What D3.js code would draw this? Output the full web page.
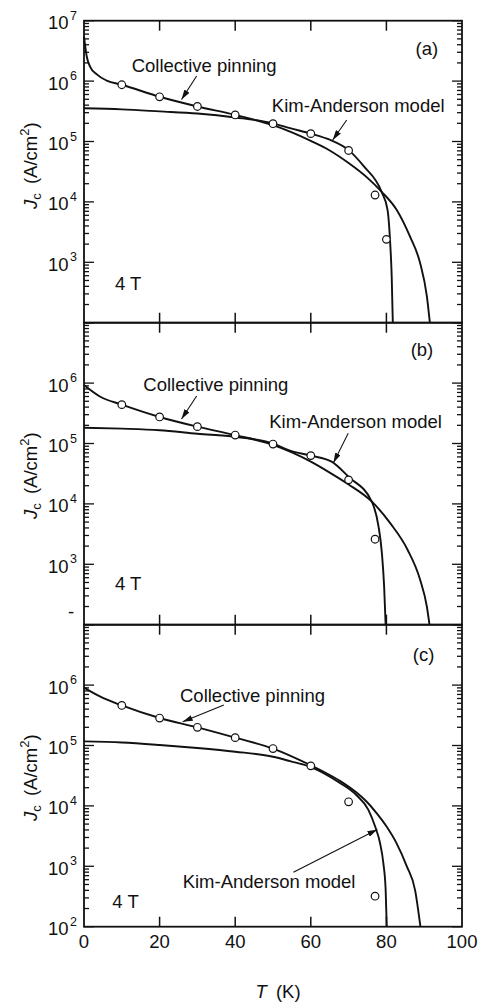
<!DOCTYPE html>
<html>
<head>
<meta charset="utf-8">
<script src="https://cdn.jsdelivr.net/npm/d3@7"></script>
<style>
  html, body { margin: 0; padding: 0; background: #fff; }
  svg { display: block; }
  text { font-family: "Liberation Sans", Arial, Helvetica, sans-serif; fill: #111; }
</style>
</head>
<body>
<svg id="chart" width="479" height="1006"></svg>
<script>
// ---- data: critical current density J_c (A/cm^2) vs temperature T (K) at 4 T ----

// panel (a)
const aCollT = [0, 0.7, 1.6, 3.4, 6, 10, 20, 30, 40, 50, 55, 60, 65, 70, 75, 78.7, 82.7, 86.2, 88.9, 90.7, 91.5];
const aCollJ = [5.5e6, 2.6e6, 1.74e6, 1.29e6, 1.02e6, 8.7e5, 5.5e5, 3.8e5, 2.75e5, 1.86e5, 1.41e5, 1.02e5, 7.1e4, 4.4e4, 2.5e4, 1.48e4, 7.4e3, 2.7e3, 980, 275, 100];
const aKimT  = [0, 10, 20, 30, 40, 50, 54.5, 60, 65, 70, 74, 78.7, 80.3, 81.0, 81.4, 81.7];
const aKimJ  = [3.55e5, 3.4e5, 3.15e5, 2.9e5, 2.5e5, 2.0e5, 1.66e5, 1.35e5, 1.07e5, 7.2e4, 3.9e4, 1.48e4, 7.4e3, 2.1e3, 590, 100];
const aPtsT  = [10, 20, 30, 40, 50, 60, 70, 77, 80];
const aPtsJ  = [8.7e5, 5.5e5, 3.8e5, 2.75e5, 1.97e5, 1.35e5, 7.1e4, 1.3e4, 2.4e3];

// panel (b)
const bCollT = [0, 4.2, 10, 20, 30, 40, 50, 55, 60, 65, 70, 76.1, 81, 85.6, 88.9, 90.7, 91.4];
const bCollJ = [9.3e5, 6.0e5, 4.4e5, 2.75e5, 1.9e5, 1.38e5, 9.5e4, 7.1e4, 5.0e4, 3.3e4, 2.1e4, 1.1e4, 4.8e3, 1.74e3, 560, 200, 100];
const bKimT  = [0, 10, 20, 30, 40, 50, 54.5, 60, 65.5, 70, 76.1, 77.9, 78.8, 79.4, 79.8];
const bKimJ  = [1.82e5, 1.76e5, 1.66e5, 1.45e5, 1.29e5, 1.0e5, 7.6e4, 6.3e4, 5.0e4, 2.8e4, 1.1e4, 4.3e3, 1.55e3, 430, 100];
const bPtsT  = [10, 20, 30, 40, 50, 60, 70, 77];
const bPtsJ  = [4.4e5, 2.75e5, 1.9e5, 1.38e5, 9.8e4, 6.3e4, 2.5e4, 2.6e3];

// panel (c)
const cCollT = [0, 4.2, 10, 20, 30, 40, 50, 60, 63.3, 67.7, 72.1, 74.8, 77.4, 80, 82.7, 85.4, 87.6, 89.0];
const cCollJ = [9.1e5, 6.5e5, 4.6e5, 2.85e5, 2.0e5, 1.35e5, 8.9e4, 4.7e4, 3.7e4, 2.6e4, 1.66e4, 1.17e4, 7.6e3, 4.6e3, 2.4e3, 1.0e3, 400, 100];
const cKimT  = [0, 10, 20, 30, 40, 50, 54.5, 60, 67.7, 72.1, 75.2, 77, 78.3, 79.2, 79.8, 80.1];
const cKimJ  = [1.17e5, 1.12e5, 1.02e5, 9.1e4, 7.9e4, 6.5e4, 5.5e4, 4.4e4, 2.4e4, 1.5e4, 8.7e3, 4.6e3, 2.45e3, 1.12e3, 410, 100];
const cPtsT  = [10, 20, 30, 40, 50, 60, 70, 77];
const cPtsJ  = [4.6e5, 2.85e5, 2.0e5, 1.35e5, 8.9e4, 4.6e4, 1.17e4, 320];

// axis ticks and labels
const tempTicks   = [0, 20, 40, 60, 80, 100];
const innerTTicks = [20, 40, 60, 80];
const jDomain     = [1e2, 1e7];
const panelTags   = ["(a)", "(b)", "(c)"];
const fieldLabel  = "4 T";
const collLabel   = "Collective pinning";
const kimLabel    = "Kim-Anderson model";
const decadeLabelsByPanel = [[3, 4, 5, 6, 7], [3, 4, 5, 6], [2, 3, 4, 5, 6]];

// ---- layout ----
const L = e => Math.pow(10, e);
const plotLeft = 84, plotRight = 462;
const panelTop0 = 20.7, panelH = 302;
const FONT = 18.5, SUP = 12.5;

// annotation placement in data coordinates (T, J)
const annotations = [
  { tag: [93.7, L(6.432)], field: [8.2, L(2.541)],
    coll: { text: [12.6, L(6.156)], from: [29.8, L(6.084)], to: [25.8, L(5.695)] },
    kim:  { text: [49.7, L(5.493)], from: [69.5, L(5.356)], to: [65.8, L(5.025)] },
    titleShift: -6 },
  { tag: [92.4, L(6.449)], field: [8.2, L(2.575)],
    coll: { text: [15.7, L(5.874)], from: [29.8, L(5.786)], to: [25.8, L(5.405)] },
    kim:  { text: [49.0, L(5.252)], from: [69.9, L(5.169)], to: [66.0, L(4.682)] },
    titleShift: 2 },
  { tag: [92.7, L(6.404)], field: [7.5, L(2.305)],
    coll: { text: [25.4, L(5.725)], from: [37.0, L(5.67)], to: [26.1, L(5.394)] },
    kim:  { text: [26.1, L(2.636)], from: [55.4, L(2.90)], to: [77.6, L(3.61)] },
    titleShift: 2 }
];

const panels = [
  { coll: [aCollT, aCollJ], kim: [aKimT, aKimJ], pts: [aPtsT, aPtsJ] },
  { coll: [bCollT, bCollJ], kim: [bKimT, bKimJ], pts: [bPtsT, bPtsJ] },
  { coll: [cCollT, cCollJ], kim: [cKimT, cKimJ], pts: [cPtsT, cPtsJ] }
];

const svg = d3.select("#chart");
const ink = "#111";

const defs = svg.append("defs");
defs.append("marker")
  .attr("id", "arrowhead")
  .attr("viewBox", "0 0 10 6")
  .attr("refX", 10).attr("refY", 3)
  .attr("markerWidth", 10).attr("markerHeight", 6)
  .attr("markerUnits", "userSpaceOnUse")
  .attr("orient", "auto")
  .append("path").attr("d", "M0,0L10,3L0,6Z").attr("fill", ink);

const x = d3.scaleLinear().domain([0, 100]).range([plotLeft, plotRight]);

panels.forEach((p, i) => {
  const top = panelTop0 + i * panelH;
  const bottom = top + panelH;
  const y = d3.scaleLog().domain(jDomain).range([bottom, top]);
  const g = svg.append("g");
  const ann = annotations[i];

  // y ticks (decades and minor) on both sides, pointing inward
  const yTicks = [];
  for (let d = 2; d <= 6; d++) for (let m = 1; m <= 9; m++) yTicks.push({ v: m * L(d), major: m === 1 });
  yTicks.push({ v: 1e7, major: true });
  g.selectAll(null).data(yTicks).join("line")
    .attr("x1", plotLeft).attr("x2", d => plotLeft + (d.major ? 10 : 5))
    .attr("y1", d => y(d.v)).attr("y2", d => y(d.v))
    .attr("stroke", ink).attr("stroke-width", 1.3);
  g.selectAll(null).data(yTicks).join("line")
    .attr("x1", plotRight).attr("x2", d => plotRight - (d.major ? 10 : 5))
    .attr("y1", d => y(d.v)).attr("y2", d => y(d.v))
    .attr("stroke", ink).attr("stroke-width", 1.3);

  // temperature ticks on top and bottom edges
  g.selectAll(null).data(innerTTicks).join("line")
    .attr("x1", d => x(d)).attr("x2", d => x(d))
    .attr("y1", bottom).attr("y2", bottom - 10)
    .attr("stroke", ink).attr("stroke-width", 1.5);
  g.selectAll(null).data(innerTTicks).join("line")
    .attr("x1", d => x(d)).attr("x2", d => x(d))
    .attr("y1", top).attr("y2", top + 10)
    .attr("stroke", ink).attr("stroke-width", 1.5);

  // frame
  g.append("rect")
    .attr("x", plotLeft).attr("y", top)
    .attr("width", plotRight - plotLeft).attr("height", panelH)
    .attr("fill", "none").attr("stroke", ink).attr("stroke-width", 1.8);

  // decade labels
  const lbl = g.selectAll(null).data(decadeLabelsByPanel[i]).join("text")
    .attr("x", 77).attr("y", d => y(L(d)) + 8.5)
    .attr("text-anchor", "end").attr("font-size", FONT);
  lbl.append("tspan").text("10");
  lbl.append("tspan").attr("font-size", SUP).attr("dx", 1.5).attr("dy", -9.5).text(d => d);

  if (i === 1) {
    g.append("text").attr("x", 71).attr("y", y(L(2.205)) + 5.5)
      .attr("text-anchor", "middle").attr("font-size", FONT).text("-");
  }

  // model curves
  const line = d3.line()
    .x(d => x(d[0])).y(d => y(d[1]))
    .curve(d3.curveMonotoneX);
  [p.coll, p.kim].forEach(s => {
    g.append("path")
      .attr("d", line(d3.zip(s[0], s[1])))
      .attr("fill", "none").attr("stroke", ink)
      .attr("stroke-width", 1.9).attr("stroke-linejoin", "round");
  });

  // measured points
  g.selectAll(null).data(d3.zip(p.pts[0], p.pts[1])).join("circle")
    .attr("cx", d => x(d[0])).attr("cy", d => y(d[1])).attr("r", 3.8)
    .attr("fill", "#fff").attr("stroke", ink).attr("stroke-width", 1.2);

  // labels and arrows
  const addArrow = a => g.append("line")
    .attr("x1", x(a.from[0])).attr("y1", y(a.from[1]))
    .attr("x2", x(a.to[0])).attr("y2", y(a.to[1]))
    .attr("stroke", ink).attr("stroke-width", 1.1)
    .attr("marker-end", "url(#arrowhead)");
  addArrow(ann.coll);
  addArrow(ann.kim);
  g.append("text").attr("x", x(ann.coll.text[0])).attr("y", y(ann.coll.text[1]))
    .attr("font-size", FONT).text(collLabel);
  g.append("text").attr("x", x(ann.kim.text[0])).attr("y", y(ann.kim.text[1]))
    .attr("font-size", FONT).text(kimLabel);
  g.append("text").attr("x", x(ann.tag[0])).attr("y", y(ann.tag[1]))
    .attr("text-anchor", "end").attr("font-size", FONT).text(panelTags[i]);
  g.append("text").attr("x", x(ann.field[0])).attr("y", y(ann.field[1]))
    .attr("font-size", FONT).text(fieldLabel);

  // y axis title
  const cy = (top + bottom) / 2 + ann.titleShift;
  const yt = g.append("text")
    .attr("transform", `translate(37,${cy}) rotate(-90)`)
    .attr("text-anchor", "middle").attr("font-size", FONT);
  yt.append("tspan").attr("font-style", "italic").text("J");
  yt.append("tspan").attr("font-size", 13).attr("dy", 4).text("c");
  yt.append("tspan").attr("dy", -4).text("\u2002(A/cm");
  yt.append("tspan").attr("font-size", 13).attr("dy", -8).text("2");
  yt.append("tspan").attr("dy", 8).text(")");

  // temperature labels on the bottom panel
  if (i === panels.length - 1) {
    g.selectAll(null).data(tempTicks).join("text")
      .attr("x", d => x(d)).attr("y", bottom + 21.5)
      .attr("text-anchor", "middle").attr("font-size", FONT)
      .text(d => d);
    const xt = g.append("text")
      .attr("x", 278).attr("y", bottom + 71.5)
      .attr("text-anchor", "middle").attr("font-size", FONT);
    xt.append("tspan").attr("font-style", "italic").text("T");
    xt.append("tspan").text("\u2002(K)");
  }
});
</script>
</body>
</html>
